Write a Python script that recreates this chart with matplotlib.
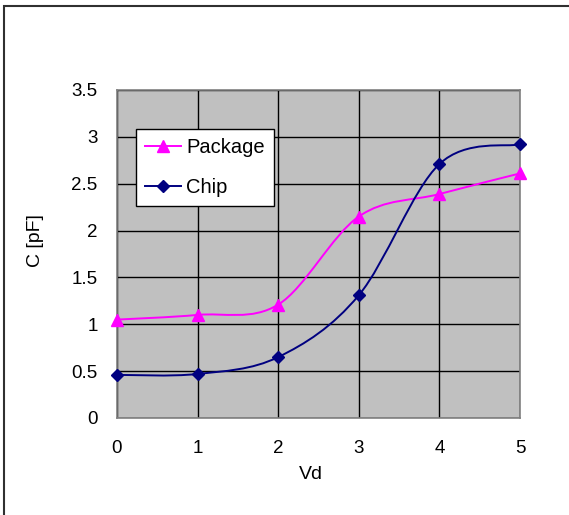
import matplotlib
matplotlib.use('Agg')
import matplotlib.pyplot as plt
from matplotlib.path import Path
from matplotlib.patches import PathPatch, Rectangle
from matplotlib.lines import Line2D
import numpy as np

vd = [0, 1, 2, 3, 4, 5]
package = [1.05, 1.10, 1.21, 2.15, 2.39, 2.61]
chip = [0.46, 0.47, 0.65, 1.31, 2.71, 2.92]

plt.rcParams['font.family'] = ['Liberation Sans', 'DejaVu Sans']


def smooth_path(x, y):
    # Excel-style smoothed line: cubic Bezier segments, Catmull-Rom control points
    pts = np.column_stack([x, y]).astype(float)
    n = len(pts)
    verts = [pts[0]]
    codes = [Path.MOVETO]
    for i in range(n - 1):
        p0 = pts[max(i - 1, 0)]
        p1 = pts[i]
        p2 = pts[i + 1]
        p3 = pts[min(i + 2, n - 1)]
        c1 = p1 + (p2 - p0) / 6
        c2 = p2 - (p3 - p1) / 6
        verts += [c1, c2, p2]
        codes += [Path.CURVE4] * 3
    return Path(verts, codes)


fig = plt.figure(figsize=(5.69, 5.15), dpi=100)
ax = fig.add_axes([117 / 569, 1 - 418 / 515, 403 / 569, 328 / 515])
ax.set_facecolor('#c0c0c0')

for vals, color, marker, ms in [(package, '#ff00ff', '^', 8.5), (chip, '#000080', 'D', 6.5)]:
    ax.add_patch(PathPatch(smooth_path(vd, vals), facecolor='none', edgecolor=color, lw=1.4, zorder=3))
    ax.plot(vd, vals, ls='none', marker=marker, color=color, ms=ms, zorder=4, clip_on=False)

ax.set_xlim(0, 5)
ax.set_ylim(0, 3.5)
ax.set_xticks(np.arange(0, 6, 1))
ax.set_yticks(np.arange(0, 3.6, 0.5))
ax.set_yticklabels(['0', '0.5', '1', '1.5', '2', '2.5', '3', '3.5'])
ax.grid(True, color='black', lw=1)
ax.set_axisbelow(True)
ax.tick_params(length=0, labelsize=13.5, pad=14)
ax.tick_params(axis='x', pad=16)
for s in ax.spines.values():
    s.set_color('#808080')
    s.set_linewidth(1.2)

ax.set_xlabel('Vd', fontsize=14)
ax.xaxis.set_label_coords(0.48, -0.145)
ax.set_ylabel('C [pF]', fontsize=14)
ax.yaxis.set_label_coords(-0.18, 0.54)

handles = [
    Line2D([], [], color='#ff00ff', marker='^', ms=8.5, lw=1.4),
    Line2D([], [], color='#000080', marker='D', ms=6.5, lw=1.4),
]
leg = ax.legend(handles, ['Package', 'Chip'], loc='upper left', bbox_to_anchor=(0.047, 0.881),
                fontsize=14.5, frameon=True, fancybox=False, borderpad=0.45, labelspacing=1.05,
                handlelength=1.8, handletextpad=0.25, borderaxespad=0)
leg.get_frame().set_edgecolor('black')
leg.get_frame().set_linewidth(1)
leg.get_frame().set_facecolor('white')
leg.get_frame().set_alpha(1)

# outer chart frame
fig.patches.append(Rectangle((4 / 569, -0.1), 1.2, 1 - 6 / 515 + 0.1, transform=fig.transFigure,
                             fill=False, edgecolor='#303030', lw=1.5))

fig.savefig('out.png', dpi=100)
